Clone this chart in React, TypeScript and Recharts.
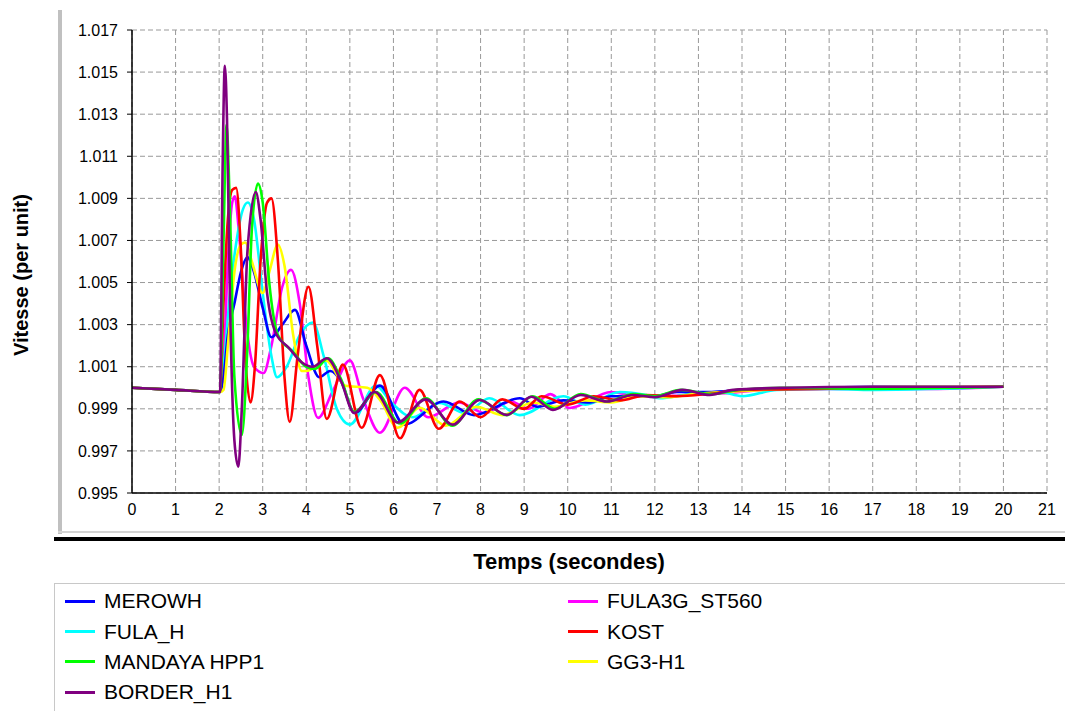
import { LineChart, Line, XAxis, YAxis, CartesianGrid } from 'recharts';

// [temps (s), vitesse (pu)] at the turning points
const merowh: [number, number][] = [
  [0, 1.0], [1, 0.9999], [2.02, 0.9998], [2.1, 1.0005], [2.2, 1.0025], [2.35, 1.004],
  [2.5, 1.0055], [2.65, 1.0062], [2.8, 1.0055], [3.0, 1.0038], [3.2, 1.0024], [3.45, 1.003],
  [3.74, 1.0037], [4.0, 1.002], [4.3, 1.0005], [4.55, 1.0008], [4.8, 1.0003], [5.11, 0.9988],
  [5.69, 1.0001], [6.25, 0.99825], [7.15, 0.99935], [7.85, 0.9987], [8.9, 0.9995], [9.3, 0.9991],
  [9.9, 0.9994], [10.5, 0.9993], [11.0, 0.9996], [12, 0.9996], [12.5, 0.9998], [13.3, 0.9998],
  [14, 0.9999], [16, 1.0], [17, 1.00005], [20, 1.00005],
];

const fulaH: [number, number][] = [
  [0, 1.0], [1, 0.9999], [2.02, 0.9998], [2.1, 1.001], [2.25, 1.0045], [2.4, 1.007],
  [2.55, 1.0085], [2.66, 1.0088], [2.8, 1.008], [3.0, 1.0045], [3.2, 1.0015], [3.33, 1.0005],
  [3.55, 1.001], [3.85, 1.0025], [4.15, 1.0031], [4.4, 1.0015], [4.7, 0.999], [5.0, 0.99825],
  [5.6, 1.0001], [5.95, 0.9993], [6.45, 0.9986], [7.06, 0.99928], [7.64, 0.9988], [8.2, 0.9995],
  [8.9, 0.9987], [9.9, 0.9996], [10.4, 0.9992], [11.2, 0.9998], [11.8, 0.99965], [12.1, 0.9995],
  [12.8, 0.9997], [13.5, 0.9998], [14.0, 0.9996], [14.8, 0.9999], [16, 0.99995], [17, 0.9999],
  [20, 1.00005],
];

const mandaya: [number, number][] = [
  [0, 1.0], [1, 0.9999], [2.02, 0.9998], [2.1, 1.007], [2.17, 1.0125], [2.24, 1.009],
  [2.35, 1.0005], [2.52, 0.99776], [2.65, 1.002], [2.75, 1.0075], [2.89, 1.0097], [3.0, 1.0088],
  [3.15, 1.005], [3.35, 1.0025], [3.7, 1.0017], [4.0, 1.001], [4.2, 1.0009], [4.5, 1.0014],
  [4.8, 1.0004], [5.1, 0.99885], [5.6, 0.9998], [6.15, 0.9983], [6.75, 0.9995], [7.35, 0.9982],
  [7.95, 0.99945], [8.6, 0.9987], [9.2, 0.9996], [9.7, 0.999], [10.3, 0.9997], [10.9, 0.99935],
  [11.5, 0.9997], [12.0, 0.9996], [12.6, 0.9999], [13.3, 0.9997], [13.9, 0.9999], [15, 1.0],
  [16.8, 0.99995], [20, 1.00005],
];

const border: [number, number][] = [
  [0, 1.0], [1, 0.9999], [2.02, 0.9998], [2.08, 1.0105], [2.13, 1.0153], [2.18, 1.0128],
  [2.25, 1.004], [2.35, 0.9975], [2.44, 0.99625], [2.52, 0.999], [2.65, 1.0065], [2.84, 1.0093],
  [2.95, 1.008], [3.1, 1.0045], [3.3, 1.0026], [3.6, 1.0019], [3.9, 1.0012], [4.15, 1.001],
  [4.47, 1.0014], [4.8, 1.0003], [5.1, 0.9988], [5.57, 0.9998], [6.1, 0.99835], [6.74, 0.99945],
  [7.36, 0.99825], [7.98, 0.99942], [8.6, 0.99871], [9.17, 0.99957], [9.66, 0.99895], [10.3, 0.99966],
  [10.9, 0.99935], [11.5, 0.99966], [12.0, 0.99955], [12.64, 0.9999], [13.26, 0.99966], [13.8, 0.9999],
  [15, 1.0], [17, 1.00005], [20, 1.00005],
];

const fula3g: [number, number][] = [
  [0, 1.0], [1, 0.9999], [2.02, 0.9998], [2.1, 1.001], [2.2, 1.006], [2.3, 1.0088],
  [2.36, 1.0091], [2.45, 1.0075], [2.6, 1.0035], [2.8, 1.001], [3.02, 1.0007], [3.2, 1.002],
  [3.45, 1.0048], [3.65, 1.0056], [3.85, 1.004], [4.05, 1.0005], [4.27, 0.99857], [4.6, 0.9998],
  [5.0, 1.0013], [5.3, 0.9995], [5.69, 0.99786], [6.26, 1.0], [6.8, 0.9986], [7.5, 0.9993],
  [8.1, 0.9988], [8.7, 0.99935], [9.1, 0.999], [9.6, 0.9997], [10.05, 0.99904], [11.0, 0.9998],
  [11.6, 0.9996], [12.3, 0.9996], [13, 0.9997], [13.7, 0.99975], [14.5, 0.9999], [16, 0.99995],
  [18.5, 0.99995], [20, 1.00005],
];

const kost: [number, number][] = [
  [0, 1.0], [1, 0.9999], [2.02, 0.9998], [2.1, 1.004], [2.2, 1.008], [2.3, 1.0094],
  [2.39, 1.0095], [2.5, 1.0065], [2.6, 1.0015], [2.72, 0.9993], [2.82, 1.001], [2.95, 1.006],
  [3.1, 1.0088], [3.2, 1.009], [3.35, 1.006], [3.5, 1.0005], [3.62, 0.99838], [3.8, 1.0015],
  [4.05, 1.0048], [4.25, 1.002], [4.47, 0.99852], [4.84, 1.0011], [5.27, 0.9981], [5.69, 1.0006],
  [6.15, 0.9976], [6.6, 0.9999], [7.04, 0.99805], [7.52, 0.99935], [8.0, 0.9986], [8.5, 0.99945],
  [9.0, 0.999], [9.4, 0.9996], [10.0, 0.9992], [10.6, 0.9996], [11.2, 0.9994], [11.8, 0.99965],
  [12.5, 0.9996], [13.2, 0.9997], [14, 0.9999], [16, 0.99995], [20, 1.00005],
];

const gg3: [number, number][] = [
  [0, 1.0], [1, 0.9999], [2.02, 0.9998], [2.1, 0.9999], [2.2, 1.002], [2.35, 1.0055],
  [2.5, 1.0068], [2.6, 1.0069], [2.75, 1.006], [3.0, 1.0045], [3.15, 1.0055], [3.35, 1.0068],
  [3.5, 1.0058], [3.7, 1.0025], [3.9, 1.0008], [4.0, 1.0008], [4.45, 1.0013], [4.9, 1.0001],
  [5.4, 1.0], [5.7, 0.9994], [6.1, 0.9981], [6.6, 0.99905], [7.2, 0.9982], [7.9, 0.9991],
  [8.5, 0.9987], [9.2, 0.9993], [9.7, 0.9991], [10.4, 0.9994], [11.0, 0.9993], [11.6, 0.9996],
  [12.3, 0.99955], [12.9, 0.9997], [13.6, 0.9998], [14.5, 0.9999], [16, 1.0], [18, 1.00005],
  [20, 1.00005],
];

const xTicks = [0, 1, 2, 3, 4, 5, 6, 7, 8, 9, 10, 11, 12, 13, 14, 15, 16, 17, 18, 19, 20, 21];
const yTicks = [0.995, 0.997, 0.999, 1.001, 1.003, 1.005, 1.007, 1.009, 1.011, 1.013, 1.015, 1.017];

const series = [
  { name: 'MEROWH', color: '#0000ff', points: merowh },
  { name: 'FULA_H', color: '#00ffff', points: fulaH },
  { name: 'MANDAYA HPP1', color: '#00ff00', points: mandaya },
  { name: 'BORDER_H1', color: '#800080', points: border },
  { name: 'FULA3G_ST560', color: '#ff00ff', points: fula3g },
  { name: 'KOST', color: '#ff0000', points: kost },
  { name: 'GG3-H1', color: '#ffff00', points: gg3 },
];

// stacking order seen in the picture (purple on top)
const drawOrder = ['FULA3G_ST560', 'FULA_H', 'MEROWH', 'GG3-H1', 'KOST', 'MANDAYA HPP1', 'BORDER_H1'];

const FONT = '"Liberation Sans", Arial, sans-serif';

const App = () => {
  const legendCol1 = series.slice(0, 4);
  const legendCol2 = series.slice(4);

  return (
    <div style={{ position: 'absolute', left: 0, top: 0, width: 1065, height: 711, background: '#fff', fontFamily: FONT, overflow: 'hidden' }}>
      {/* panel frame */}
      <div style={{ position: 'absolute', left: 58, top: 10, width: 4, height: 524, background: '#c0c0c0' }} />
      <div style={{ position: 'absolute', left: 58, top: 531, width: 1007, height: 2, background: '#d4d4d4' }} />
      <div style={{ position: 'absolute', left: 54, top: 537, width: 1011, height: 4, background: '#000' }} />

      <div style={{ position: 'absolute', left: 0, top: 0 }}>
        <LineChart width={1065} height={540} margin={{ top: 30, right: 18, left: 72, bottom: 17 }}>
          <CartesianGrid stroke="#999" strokeDasharray="5 3" horizontalValues={yTicks} verticalValues={xTicks} />
          <XAxis
            type="number"
            dataKey="t"
            domain={[0, 21]}
            ticks={xTicks}
            allowDuplicatedCategory={false}
            height={30}
            tickLine={false}
            tickSize={5}
            tickMargin={6}
            axisLine={{ stroke: '#000', strokeWidth: 1.5 }}
            tick={{ fill: '#000', fontSize: 16, fontFamily: FONT }}
          />
          <XAxis xAxisId="top" orientation="top" type="number" domain={[0, 21]} height={0} tick={false} tickLine={false} axisLine={{ stroke: '#000', strokeWidth: 1.5 }} />
          <YAxis
            type="number"
            domain={[0.995, 1.017]}
            ticks={yTicks}
            width={60}
            tickSize={5}
            tickMargin={9}
            tickFormatter={(v: number) => v.toFixed(3)}
            axisLine={{ stroke: '#000', strokeWidth: 1.5 }}
            tickLine={{ stroke: '#000' }}
            tick={{ fill: '#000', fontSize: 16, fontFamily: FONT }}
          />
          <YAxis yAxisId="right" orientation="right" type="number" domain={[0.995, 1.017]} width={0} tick={false} tickLine={false} axisLine={{ stroke: '#000', strokeWidth: 1.5 }} />
          {drawOrder.map((n) => {
            const s = series.find((x) => x.name === n)!;
            return (
              <Line
                key={s.name}
                name={s.name}
                data={s.points.map(([t, v]) => ({ t, v }))}
                dataKey="v"
                type="monotone"
                stroke={s.color}
                strokeWidth={2.6}
                dot={false}
                isAnimationActive={false}
              />
            );
          })}
        </LineChart>
      </div>

      <div style={{ position: 'absolute', left: 21, top: 275, transform: 'translate(-50%, -50%) rotate(-90deg)', whiteSpace: 'nowrap', fontWeight: 'bold', fontSize: 20 }}>
        Vitesse (per unit)
      </div>
      <div style={{ position: 'absolute', left: 569, top: 562, transform: 'translate(-50%, -50%)', whiteSpace: 'nowrap', fontWeight: 'bold', fontSize: 22 }}>
        Temps (secondes)
      </div>

      {/* legend */}
      <div style={{ position: 'absolute', left: 54, top: 583, width: 1020, height: 140, border: '1px solid #c8c8c8' }}>
        {[legendCol1, legendCol2].map((col, ci) => (
          <div key={ci} style={{ position: 'absolute', left: ci === 0 ? 10 : 513, top: 2 }}>
            {col.map((s) => (
              <div key={s.name} style={{ display: 'flex', alignItems: 'center', height: 30.4 }}>
                <div style={{ width: 30, height: 3, background: s.color }} />
                <span style={{ marginLeft: 9, fontSize: 21, color: '#000' }}>{s.name}</span>
              </div>
            ))}
          </div>
        ))}
      </div>
    </div>
  );
};

export default App;
